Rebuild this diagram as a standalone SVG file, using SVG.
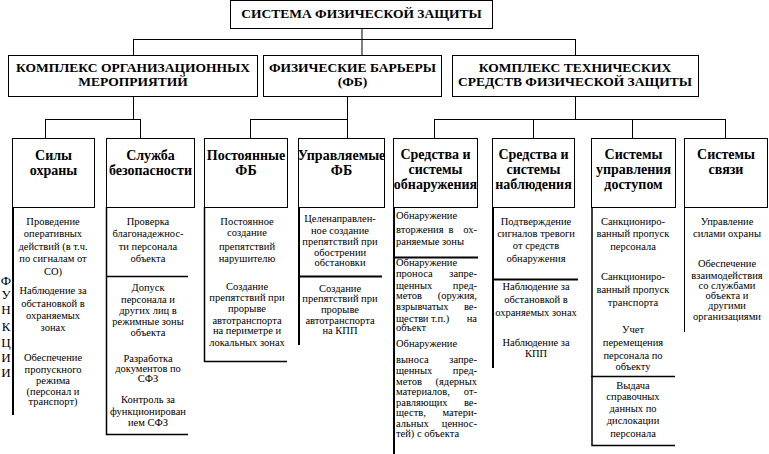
<svg xmlns="http://www.w3.org/2000/svg" width="769" height="454" viewBox="0 0 769 454">
<style>
.bx{fill:#fff;stroke:#000;stroke-width:1}
.ln{fill:none;stroke:#000;stroke-width:1}
.thk{stroke-width:2}
.med{stroke-width:1.5}
.t1,.h,.b,.l,.r,.v{font-family:'Liberation Serif','DejaVu Serif','Noto Serif',serif;fill:#000}
.t1{font-size:13.5px;font-weight:bold;text-anchor:middle}
.h{font-size:14px;font-weight:bold;text-anchor:middle}
.b{font-size:10.5px;text-anchor:middle}
.l{font-size:10.5px;text-anchor:start}
.r{font-size:10.5px;text-anchor:end}
.v{font-size:13px;text-anchor:middle}
</style>
<rect width="769" height="454" fill="#fff"/>
<g id="connectors">
<path class="ln" d="M362 28.5V55.5M133.5 39.5H575.5M133.5 39V55.5M575.5 39V55.5"/>
<path class="ln" d="M133.5 97V119.5M45.5 119.5H140.5M45.5 119V138.5M140.5 119V138.5"/>
<path class="ln" d="M347.5 97V138.5M250.5 119.5H347.5M250.5 119V138.5"/>
<path class="ln" d="M575.5 97V119.5M434.5 119.5H725.5M434.5 119V138.5M533.5 119V138.5M632.5 119V138.5M725.5 119V138.5"/>
</g>
<g id="root">
<rect class="bx" x="230.5" y="0.5" width="262" height="28"/>
<text class="t1" x="361.5" y="18">СИСТЕМА ФИЗИЧЕСКОЙ ЗАЩИТЫ</text>
</g>
<g id="org">
<rect class="bx" x="8.5" y="55.5" width="249" height="41"/>
<text class="t1" x="133" y="72">КОМПЛЕКС ОРГАНИЗАЦИОННЫХ</text>
<text class="t1" x="133" y="86">МЕРОПРИЯТИЙ</text>
</g>
<g id="fb">
<rect class="bx" x="263.5" y="55.5" width="178" height="41"/>
<text class="t1" x="352.5" y="72">ФИЗИЧЕСКИЕ БАРЬЕРЫ</text>
<text class="t1" x="352.5" y="86">(ФБ)</text>
</g>
<g id="tech">
<rect class="bx" x="452.5" y="55.5" width="246" height="41"/>
<text class="t1" x="575" y="72">КОМПЛЕКС ТЕХНИЧЕСКИХ</text>
<text class="t1" x="575" y="86">СРЕДСТВ ФИЗИЧЕСКОЙ ЗАЩИТЫ</text>
</g>
<g id="functions">
<text class="v" x="6" y="285">Ф</text>
<text class="v" x="6" y="299">У</text>
<text class="v" x="6" y="314">Н</text>
<text class="v" x="6" y="331">К</text>
<text class="v" x="6" y="347">Ц</text>
<text class="v" x="6" y="362">И</text>
<text class="v" x="6" y="377">И</text>
</g>
<g id="guard">
<rect class="bx" x="12.5" y="138.5" width="82" height="69"/>
<text class="h" x="53.5" y="160">Силы</text>
<text class="h" x="53.5" y="175">охраны</text>
<path class="ln thk" d="M13 207V415"/>
<text class="b" x="53" y="224.5">Проведение</text>
<text class="b" x="53" y="237">оперативных</text>
<text class="b" x="53" y="249.5">действий (в т.ч.</text>
<text class="b" x="53" y="262">по сигналам от</text>
<text class="b" x="53" y="274.5">СО)</text>
<text class="b" x="53" y="294">Наблюдение за</text>
<text class="b" x="53" y="306.5">обстановкой в</text>
<text class="b" x="53" y="318.5">охраняемых</text>
<text class="b" x="53" y="331">зонах</text>
<text class="b" x="53" y="361">Обеспечение</text>
<text class="b" x="53" y="372.5">пропускного</text>
<text class="b" x="53" y="383.5">режима</text>
<text class="b" x="53" y="394.5">(персонал и</text>
<text class="b" x="53" y="404.5">транспорт)</text>
</g>
<g id="security">
<rect class="bx" x="106.5" y="138.5" width="88" height="69"/>
<text class="h" x="150.5" y="160">Служба</text>
<text class="h" x="150.5" y="175">безопасности</text>
<path class="ln med" d="M106.5 207V434.5H188M106.5 276.5H188"/>
<text class="b" x="148" y="224.5">Проверка</text>
<text class="b" x="148" y="236.5">благонадежнос-</text>
<text class="b" x="148" y="249.5">ти персонала</text>
<text class="b" x="148" y="261.5">объекта</text>
<text class="b" x="148" y="290.5">Допуск</text>
<text class="b" x="148" y="302.5">персонала и</text>
<text class="b" x="148" y="314">других лиц в</text>
<text class="b" x="148" y="324.5">режимные зоны</text>
<text class="b" x="148" y="335.5">объекта</text>
<text class="b" x="148" y="361.5">Разработка</text>
<text class="b" x="148" y="371.5">документов по</text>
<text class="b" x="148" y="381.5">СФЗ</text>
<text class="b" x="148" y="402.5">Контроль за</text>
<text class="b" x="148" y="415">функционирован</text>
<text class="b" x="148" y="426">ием СФЗ</text>
</g>
<g id="permanent">
<rect class="bx" x="204.5" y="138.5" width="83" height="69"/>
<text class="h" x="246" y="160">Постоянные</text>
<text class="h" x="246" y="175">ФБ</text>
<path class="ln med" d="M204.5 207V361.5H287"/>
<text class="b" x="247" y="224.5">Постоянное</text>
<text class="b" x="247" y="236">создание</text>
<text class="b" x="247" y="250">препятствий</text>
<text class="b" x="247" y="262">нарушителю</text>
<text class="b" x="247" y="290">Создание</text>
<text class="b" x="247" y="301">препятствий при</text>
<text class="b" x="247" y="311.5">прорыве</text>
<text class="b" x="247" y="323.5">автотранспорта</text>
<text class="b" x="247" y="334">на периметре и</text>
<text class="b" x="247" y="346">локальных зонах</text>
</g>
<g id="controlled">
<rect class="bx" x="298.5" y="138.5" width="86" height="69"/>
<text class="h" x="341.5" y="160">Управляемые</text>
<text class="h" x="341.5" y="175">ФБ</text>
<path class="ln thk" d="M299 207V345M298 276.5H382"/>
<text class="b" x="340" y="221.5">Целенаправлен-</text>
<text class="b" x="340" y="233.5">ное создание</text>
<text class="b" x="340" y="244.5">препятствий при</text>
<text class="b" x="340" y="256">обострении</text>
<text class="b" x="340" y="266">обстановки</text>
<text class="b" x="340" y="291.5">Создание</text>
<text class="b" x="340" y="302">препятствий при</text>
<text class="b" x="340" y="312.5">прорыве</text>
<text class="b" x="340" y="323.5">автотранспорта</text>
<text class="b" x="340" y="334">на КПП</text>
</g>
<g id="detection">
<rect class="bx" x="393.5" y="138.5" width="84" height="69"/>
<text class="h" x="435.5" y="159">Средства и</text>
<text class="h" x="435.5" y="174">системы</text>
<text class="h" x="435.5" y="189">обнаружения</text>
<path class="ln thk" d="M394 207V454M393 257.5H478"/>
<text class="l" x="396" y="218.5">Обнаружение</text>
<text class="l" x="396" y="232.5">вторжения</text><text class="b" x="451" y="232.5">в</text><text class="r" x="477" y="232.5">ох-</text>
<text class="l" x="396" y="245">раняемые зоны</text>
<text class="l" x="396" y="266">Обнаружение</text>
<text class="l" x="396" y="276.5">проноса</text><text class="r" x="477" y="276.5">запре-</text>
<text class="l" x="396" y="288.5">щенных</text><text class="r" x="477" y="288.5">пред-</text>
<text class="l" x="396" y="299">метов</text><text class="r" x="477" y="299">(оружия,</text>
<text class="l" x="396" y="310">взрывчатых</text><text class="r" x="477" y="310">ве-</text>
<text class="l" x="396" y="321.5">ществ</text><text class="b" x="436" y="321.5">и т.п.)</text><text class="r" x="477" y="321.5">на</text>
<text class="l" x="396" y="331">объект</text>
<text class="l" x="396" y="347">Обнаружение</text>
<text class="l" x="396" y="363">выноса</text><text class="r" x="477" y="363">запре-</text>
<text class="l" x="396" y="374">щенных</text><text class="r" x="477" y="374">пред-</text>
<text class="l" x="396" y="384.5">метов</text><text class="r" x="477" y="384.5">(ядерных</text>
<text class="l" x="396" y="395">материалов,</text><text class="r" x="477" y="395">от-</text>
<text class="l" x="396" y="405.5">равляющих</text><text class="r" x="477" y="405.5">ве-</text>
<text class="l" x="396" y="416">ществ,</text><text class="r" x="477" y="416">матери-</text>
<text class="l" x="396" y="426.5">альных</text><text class="r" x="477" y="426.5">ценнос-</text>
<text class="l" x="396" y="437">тей) с объекта</text>
</g>
<g id="surveillance">
<rect class="bx" x="492.5" y="138.5" width="82" height="69"/>
<text class="h" x="533.5" y="159">Средства и</text>
<text class="h" x="533.5" y="174">системы</text>
<text class="h" x="533.5" y="189">наблюдения</text>
<path class="ln thk" d="M493 207V368M492 279.5H578"/>
<text class="b" x="536" y="224.5">Подтверждение</text>
<text class="b" x="536" y="236.5">сигналов тревоги</text>
<text class="b" x="536" y="249">от средств</text>
<text class="b" x="536" y="261.5">обнаружения</text>
<text class="b" x="536" y="289.5">Наблюдение за</text>
<text class="b" x="536" y="303">обстановкой в</text>
<text class="b" x="536" y="316">охраняемых зонах</text>
<text class="b" x="536" y="346">Наблюдение за</text>
<text class="b" x="536" y="356.5">КПП</text>
</g>
<g id="access">
<rect class="bx" x="591.5" y="138.5" width="84" height="69"/>
<text class="h" x="633.5" y="159">Системы</text>
<text class="h" x="633.5" y="174">управления</text>
<text class="h" x="633.5" y="189">доступом</text>
<path class="ln med" d="M592 207V445.5H675M591 376.5H675"/>
<text class="b" x="633" y="224.5">Санкциониро-</text>
<text class="b" x="633" y="236.5">ванный пропуск</text>
<text class="b" x="633" y="250">персонала</text>
<text class="b" x="633" y="280">Санкциониро-</text>
<text class="b" x="633" y="292.5">ванный пропуск</text>
<text class="b" x="633" y="306">транспорта</text>
<text class="b" x="633" y="332.5">Учет</text>
<text class="b" x="633" y="346">перемещения</text>
<text class="b" x="633" y="358.5">персонала по</text>
<text class="b" x="633" y="370">объекту</text>
<text class="b" x="633" y="388.5">Выдача</text>
<text class="b" x="633" y="400">справочных</text>
<text class="b" x="633" y="411.5">данных по</text>
<text class="b" x="633" y="423.5">дислокации</text>
<text class="b" x="633" y="436.5">персонала</text>
</g>
<g id="comm">
<rect class="bx" x="684.5" y="138.5" width="83" height="69"/>
<text class="h" x="726" y="159">Системы</text>
<text class="h" x="726" y="174">связи</text>
<path class="ln" d="M684.5 207V332"/>
<text class="b" x="727" y="224.5">Управление</text>
<text class="b" x="727" y="236.5">силами охраны</text>
<text class="b" x="727" y="266.5">Обеспечение</text>
<text class="b" x="727" y="278.5">взаимодействия</text>
<text class="b" x="727" y="288.5">со службами</text>
<text class="b" x="727" y="299">объекта и</text>
<text class="b" x="727" y="309">другими</text>
<text class="b" x="727" y="320">организациями</text>
</g>
</svg>
